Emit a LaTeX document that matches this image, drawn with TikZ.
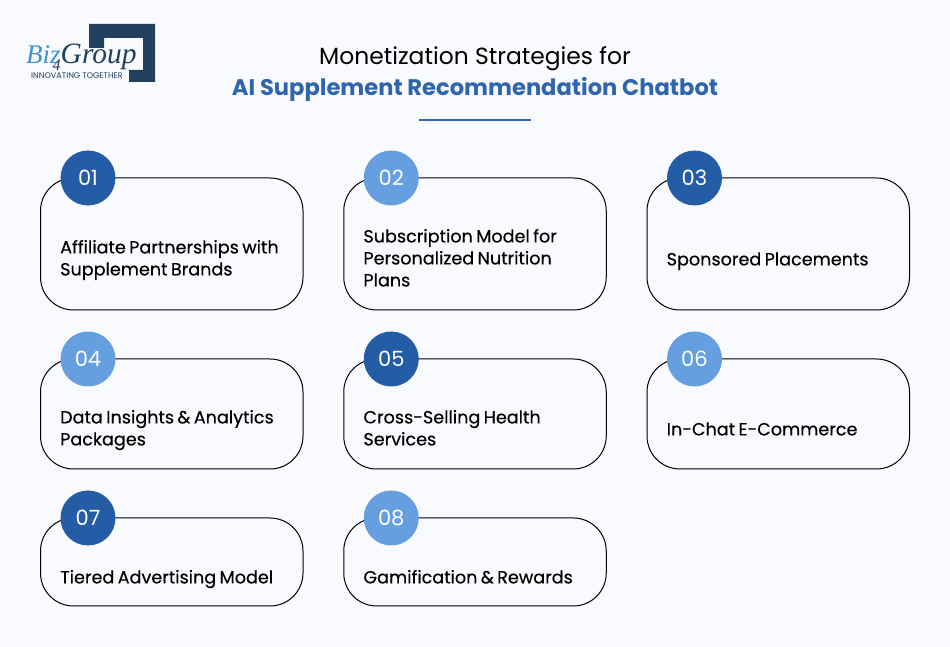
\documentclass[tikz,border=0pt]{standalone}
\usepackage{fontspec}
\setmainfont{Poppins}
\usepackage{tikz}
\usetikzlibrary{calc,positioning}

\definecolor{pagebg}{HTML}{F8FAFD}
\definecolor{darkblue}{HTML}{245CA6}
\definecolor{titleblue}{HTML}{2E65AD}
\definecolor{lightblue}{HTML}{669FE0}
\definecolor{logonavy}{HTML}{213F5F}
\definecolor{logosky}{HTML}{3F93D2}
\newfontfamily\logofont{Liberation Serif}
\newfontfamily\labfont[FakeBold=0.35,WordSpace=0.72]{Poppins}

\tikzset{
    card/.style={draw=black,line width=1pt,rounded corners=33pt,minimum width=262.5pt,inner sep=0pt,outer sep=0pt},
    cardtall/.style={card,minimum height=132pt},
    cardmid/.style={card,minimum height=110pt},
    cardlow/.style={card,minimum height=88pt},
    badge/.style={circle,minimum size=55pt,inner sep=0pt,text=white,font=\fontsize{21}{21}\selectfont},
    badgedark/.style={badge,fill=darkblue},
    badgelight/.style={badge,fill=lightblue},
    lab/.style={align=left,inner sep=0pt,yshift=-17pt,text=black,font=\labfont\fontsize{17.6}{22}\selectfont,
        execute at begin node=\strut,execute at end node=\strut}
}

\begin{document}
\begin{tikzpicture}[x=1pt,y=1pt,node distance=40.75pt]
    \fill[pagebg] (0,0) rectangle (950,647);
    \useasboundingbox (0,0) rectangle (950,647);

    % logo
    \fill[logonavy] (89,623) -- (155,623) -- (155,565) -- (129,565) -- (129,577) -- (143,577) -- (143,609) -- (104,609) -- (104,599) -- (89,599) -- cycle;
    \node (logoA) [anchor=base west,inner sep=0pt,text=logonavy,font=\logofont\itshape\fontsize{27}{27}\selectfont] at (26,583)
        {\textcolor{logosky}{Biz}\kern-8pt\raisebox{-7pt}{\fontsize{16}{16}\selectfont 4}\kern0pt\fontsize{29.5}{29.5}\selectfont Group};
    \node (logoC) [anchor=base west,inner sep=0pt,text=logonavy,font=\fontsize{8.1}{9}\selectfont] at (31,568) {INNOVATING TOGETHER};

    % title
    \node (titleA) [inner sep=0pt,font=\fontsize{23.4}{28}\selectfont] at (475,588.5) {Monetization Strategies for};
    \node (titleB) [below=6.5pt of titleA,inner sep=0pt,text=titleblue,font=\fontsize{22.6}{28}\bfseries\selectfont] {AI Supplement Recommendation Chatbot};
    \coordinate (ruleA) at (419,527);
    \coordinate (ruleB) at (531,527);
    \draw[titleblue,line width=1.5pt] (ruleA) -- (ruleB);

    % cards
    \node (cardA) [cardtall,anchor=north west] at (40.5,469) {};
    \node (cardB) [cardtall,right=of cardA] {};
    \node (cardC) [cardtall,right=of cardB] {};
    \node (cardD) [cardmid,anchor=north west] at (40.5,288) {};
    \node (cardE) [cardmid,right=of cardD] {};
    \node (cardF) [cardmid,right=of cardE] {};
    \node (cardG) [cardlow,anchor=north west] at (40.5,129) {};
    \node (cardH) [cardlow,right=of cardG] {};

    % badges
    \foreach \c/\n/\s in {A/01/badgedark,B/02/badgelight,C/03/badgedark,D/04/badgelight,E/05/badgedark,F/06/badgelight,G/07/badgedark,H/08/badgelight}{
        \node (badge\c) [\s] at ($(card\c.north west)+(47.5,0)$) {\n};
    }

    % labels
    \node (labA) [lab,right=19.5pt of cardA.west] {Affiliate Partnerships with\\Supplement Brands};
    \node (labB) [lab,right=19.5pt of cardB.west] {Subscription Model for\\Personalized Nutrition\\Plans};
    \node (labC) [lab,right=19.5pt of cardC.west] {Sponsored Placements};
    \node (labD) [lab,right=19.5pt of cardD.west] {Data Insights \& Analytics\\Packages};
    \node (labE) [lab,right=19.5pt of cardE.west] {Cross-Selling Health\\Services};
    \node (labF) [lab,right=19.5pt of cardF.west] {In-Chat E-Commerce};
    \node (labG) [lab,right=19.5pt of cardG.west] {Tiered Advertising Model};
    \node (labH) [lab,right=19.5pt of cardH.west] {Gamification \& Rewards};
\end{tikzpicture}
\end{document}
